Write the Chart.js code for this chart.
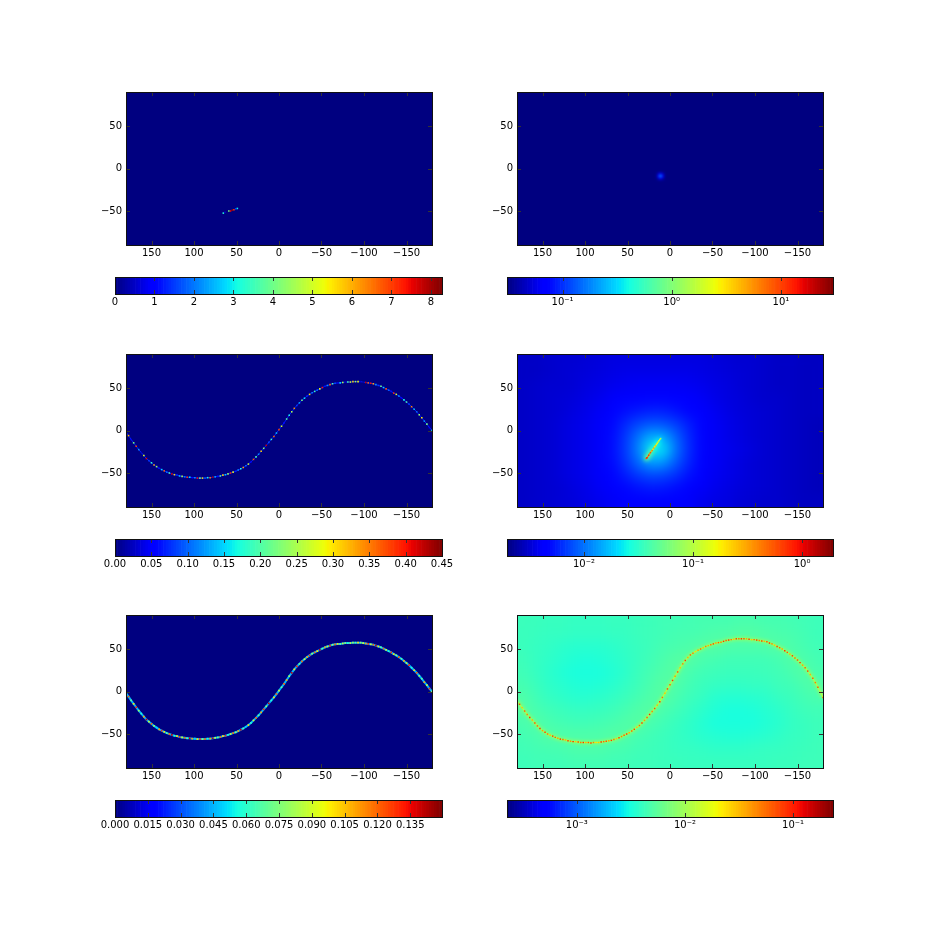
<!DOCTYPE html>
<html><head><meta charset="utf-8">
<script src="https://cdn.jsdelivr.net/npm/chart.js@4"></script>
<style>html,body{margin:0;padding:0;background:#fff;width:926px;height:926px;overflow:hidden}canvas{position:absolute;display:block}</style>
</head><body>
<script>
// ---------- data ----------
const LON_TICKS=[150,100,50,0,-50,-100,-150];
const LAT_TICKS=[50,0,-50];
const CB1_TICKS=[0,1,2,3,4,5,6,7,8];
const CB1_LABELS=["0","1","2","3","4","5","6","7","8"];
const CB2_TICKS=[0.1,1,10];
const CB2_LABELS=["10⁻¹","10⁰","10¹"];
const CB3_TICKS=[0,0.05,0.1,0.15,0.2,0.25,0.3,0.35,0.4,0.45];
const CB3_LABELS=["0.00","0.05","0.10","0.15","0.20","0.25","0.30","0.35","0.40","0.45"];
const CB4_TICKS=[0.01,0.1,1];
const CB4_LABELS=["10⁻²","10⁻¹","10⁰"];
const CB5_TICKS=[0,0.015,0.03,0.045,0.06,0.075,0.09,0.105,0.12,0.135];
const CB5_LABELS=["0.000","0.015","0.030","0.045","0.060","0.075","0.090","0.105","0.120","0.135"];
const CB6_TICKS=[0.001,0.01,0.1];
const CB6_LABELS=["10⁻³","10⁻²","10⁻¹"];

// panel 1: short streak
const P1_LON=[65.5,63.5,59,57,55,53,51,49];
const P1_LAT=[-52.5,-51.5,-50,-50,-49,-48.5,-47.5,-47];
const P1_VAL=[3.2,0.6,4,7.5,8,7,1.5,3];

// panel 2: isolated spot
const P2_LON=[15,13,11,9,7];
const P2_LAT=[-5,-7,-9,-11,-13];
const P2_VAL=[
 [.034,.04,.045,.04,.034],
 [.04,.07,.10,.07,.04],
 [.045,.10,.22,.10,.045],
 [.04,.07,.10,.07,.04],
 [.034,.04,.045,.04,.034]];

// band along the curve (panels 3, 5, 6)
const BAND_LON=[180,177,174,171,168,165,162,159,156,153,150,147,144,141,138,135,132,129,126,123,120,117,114,111,108,105,102,99,96,93,90,87,84,81,78,75,72,69,66,63,60,57,54,51,48,45,42,39,36,33,30,27,24,21,18,15,12,9,6,3,0,-3,-6,-9,-12,-15,-18,-21,-24,-27,-30,-33,-36,-39,-42,-45,-48,-51,-54,-57,-60,-63,-66,-69,-72,-75,-78,-81,-84,-87,-90,-93,-96,-99,-102,-105,-108,-111,-114,-117,-120,-123,-126,-129,-132,-135,-138,-141,-144,-147,-150,-153,-156,-159,-162,-165,-168,-171,-174,-177,-180];
const BAND_LAT=[-2,-6,-10.5,-14.5,-18.5,-22.5,-26,-29.5,-33,-35.5,-38,-40.5,-42.5,-44.5,-46,-47.5,-49,-50,-51,-52,-52.5,-53.5,-54,-54.5,-55,-55,-55.5,-55.5,-56,-56,-56,-56,-55.5,-55.5,-55,-54.5,-54,-53.5,-52.5,-52,-51,-50,-49,-48,-46.5,-45,-43.5,-41.5,-39.5,-37,-34,-31,-28,-24.5,-21,-17.5,-14,-10.5,-7,-3,1,5,9,13.5,18,22,26,29.5,32.5,35.5,38,40.5,42.5,44.5,46,47.5,49,50.5,52,53,54,55,55.5,56,56,56.5,57,57,57,57.5,57.5,57.5,57.5,57,56.5,56,55.5,55,54,53,52,50.5,49,47.5,46,44,42.5,40.5,38.5,36,33.5,31,28,25,22,18.5,15,11,7.5,3.5,0];
const BAND6_LAT=[-11,-15,-19,-23,-27,-30.5,-33.5,-37,-40.5,-43.5,-46,-48,-50,-51.5,-52.5,-54,-55,-56,-56.5,-57,-58,-58.5,-59,-59,-59.5,-60,-60,-60,-60,-60.5,-60,-60,-60,-59.5,-59,-58.5,-58,-57.5,-56.5,-55.5,-54.5,-53,-51.5,-50,-48.5,-46.5,-44.5,-42,-40,-37,-34,-30.5,-27,-23.5,-20,-16,-12,-7,-2,3,8,13,18,23,28,32.5,36.5,40,43,45,47,48.5,50,51.5,53,54,55,56,57,57.5,58,59,60,60.5,61,61.5,62,62,62,62,62,61.5,61,61,60.5,60,59.5,59,58.5,57,56,54.5,53,51.5,50,48,46,44,42,39.5,37,34,31,28,24,20,15.5,10.5,5,-1,-7];
const VAL3=[.10,.32,.05,.22,.38,.12,.03,.28,.41,.08,
 .18,.33,.24,.06,.15,.36,.10,.20,.42,.30,
 .07,.14,.25,.11,.38,.16,.05,.12,.40,.22,
 .30,.09,.17,.35,.43,.13,.06,.20,.31,.15,
 .24,.39,.28,.07,.12,.17,.33,.10,.27,.05,
 .37,.20,.12,.31,.23,.42,.09,.18,.36,.14,
 .38,.27,.06,.20,.17,.25,.34,.08,.13,.22,
 .16,.07,.30,.11,.19,.10,.28,.40,.06,.12,
 .36,.20,.09,.04,.15,.25,.02,.20,.27,.31,
 .24,.29,.03,.01,.42,.36,.40,.33,.12,.08,
 .22,.15,.37,.10,.06,.39,.28,.12,.05,.17,
 .20,.08,.35,.14,.10,.24,.30,.12,.22,.05,
 .16];
const VAL5=[.09,.12,.07,.10,.13,.08,.06,.11,.14,.09,
 .12,.08,.05,.11,.13,.10,.07,.12,.14,.06,
 .10,.13,.09,.12,.07,.14,.11,.05,.10,.13,
 .08,.12,.06,.11,.14,.09,.07,.12,.10,.13,
 .06,.09,.12,.08,.11,.14,.07,.05,.10,.06,
 .09,.12,.07,.11,.13,.08,.14,.06,.10,.12,
 .09,.07,.12,.11,.08,.14,.10,.13,.07,.12,
 .09,.11,.13,.08,.12,.10,.14,.07,.11,.09,
 .13,.08,.12,.10,.07,.09,.08,.06,.09,.08,
 .07,.10,.08,.09,.11,.13,.09,.12,.14,.10,
 .07,.12,.09,.06,.13,.10,.08,.12,.07,.11,
 .09,.13,.06,.10,.12,.08,.07,.11,.09,.13,
 .08];
const VAL6=[.055,.085,.03,.065,.05,.09,.035,.07,.06,.095,
 .04,.08,.055,.03,.085,.065,.04,.095,.06,.035,
 .08,.05,.10,.03,.07,.055,.09,.035,.065,.085,
 .05,.025,.03,.095,.06,.07,.04,.085,.055,.03,
 .08,.05,.065,.09,.035,.06,.08,.03,.055,.085,
 .04,.065,.095,.05,.07,.035,.085,.055,.03,.08,
 .06,.09,.04,.07,.03,.055,.085,.035,.065,.05,
 .025,.04,.06,.03,.05,.035,.055,.08,.04,.065,
 .05,.09,.07,.095,.055,.03,.085,.06,.095,.07,
 .04,.085,.03,.06,.09,.05,.08,.035,.07,.095,
 .055,.03,.08,.06,.04,.09,.065,.035,.085,.055,
 .07,.095,.04,.06,.08,.035,.065,.05,.07,.03,
 .06];

// coarse background fields (units of 1e-3), 15 degree cells
const FIELD_LON=[172.5,157.5,142.5,127.5,112.5,97.5,82.5,67.5,52.5,37.5,22.5,7.5,-7.5,-22.5,-37.5,-52.5,-67.5,-82.5,-97.5,-112.5,-127.5,-142.5,-157.5,-172.5];
const FIELD_LAT=[82.5,67.5,52.5,37.5,22.5,7.5,-7.5,-22.5,-37.5,-52.5,-67.5,-82.5];
const FIELD4=[
 [3.0,3.0,3.1,3.2,3.2,3.3,3.4,3.5,3.5,3.5,3.5,3.5,3.5,3.5,3.5,3.4,3.3,3.2,3.2,3.1,3.0,3.0,2.9,2.9],
 [3.0,3.0,3.1,3.2,3.3,3.4,3.5,3.6,3.7,3.7,3.7,3.7,3.7,3.7,3.6,3.5,3.4,3.3,3.2,3.1,3.0,3.0,2.9,2.9],
 [3.0,3.1,3.2,3.2,3.3,3.5,3.6,3.8,3.9,4.0,4.0,4.0,4.0,3.9,3.8,3.6,3.5,3.3,3.2,3.1,3.0,3.0,2.9,2.9],
 [3.0,3.1,3.2,3.3,3.4,3.6,3.8,4.1,4.4,4.6,4.7,4.7,4.6,4.3,4.0,3.7,3.5,3.4,3.2,3.1,3.1,3.0,2.9,2.9],
 [3.0,3.1,3.2,3.3,3.5,3.7,4.0,4.4,5.0,5.4,5.7,5.7,5.2,4.7,4.2,3.9,3.6,3.4,3.3,3.2,3.1,3.0,2.9,2.9],
 [3.0,3.1,3.2,3.4,3.6,3.8,4.1,4.8,6.0,7.4,8.2,8.0,7.0,5.6,4.5,4.0,3.7,3.5,3.3,3.2,3.1,3.0,2.9,2.8],
 [3.0,3.1,3.2,3.4,3.6,3.8,4.1,4.9,6.6,10,15,14.5,9,6.0,4.7,4.0,3.7,3.5,3.3,3.2,3.1,3.0,2.9,2.8],
 [3.0,3.1,3.2,3.4,3.6,3.8,4.1,5.0,6.8,11,24,22,10,6.2,4.7,4.0,3.8,3.6,3.4,3.2,3.1,3.0,2.9,2.8],
 [3.0,3.1,3.2,3.4,3.6,3.8,4.1,4.9,6.4,9.5,14,13,8.5,5.9,4.6,4.0,3.7,3.5,3.3,3.2,3.1,3.0,2.9,2.8],
 [3.0,3.1,3.2,3.4,3.6,3.8,4.1,4.7,5.6,6.8,7.6,7.4,6.4,5.2,4.3,3.9,3.7,3.5,3.3,3.2,3.1,3.0,2.9,2.8],
 [3.0,3.1,3.2,3.3,3.5,3.7,4.0,4.3,4.8,5.2,5.5,5.4,5.0,4.5,4.1,3.8,3.6,3.4,3.3,3.2,3.1,3.0,2.9,2.8],
 [3.0,3.1,3.2,3.3,3.4,3.6,3.8,4.0,4.2,4.4,4.5,4.5,4.3,4.1,3.8,3.6,3.5,3.3,3.2,3.1,3.1,3.0,2.9,2.9]];
const FIELD6=[
 [4.2,4.2,4.1,4.1,4.0,4.0,4.0,4.1,4.1,4.2,4.3,4.4,4.4,4.5,4.6,4.6,4.6,4.7,4.7,4.6,4.6,4.5,4.4,4.3],
 [4.2,4.1,4.0,4.0,3.9,3.9,3.9,4.0,4.0,4.2,4.3,4.4,4.6,4.6,4.7,4.9,5.0,5.2,5.2,5.0,4.8,4.7,4.5,4.3],
 [4.2,4.0,3.9,3.7,3.6,3.6,3.6,3.7,3.9,4.1,4.3,4.6,4.7,4.9,5.2,5.2,5.0,4.9,4.9,5.0,5.2,4.9,4.6,4.4],
 [4.3,4.0,3.8,3.6,3.4,3.3,3.4,3.6,3.8,4.1,4.4,4.8,5.2,5.3,4.8,4.6,4.4,4.4,4.4,4.4,4.6,5.1,4.9,4.5],
 [4.4,4.0,3.7,3.4,3.2,3.2,3.2,3.4,3.7,4.2,4.6,5.0,5.3,4.7,4.4,4.3,4.2,4.2,4.2,4.3,4.4,4.7,5.2,4.7],
 [4.6,4.2,3.8,3.6,3.4,3.3,3.4,3.6,3.9,4.3,4.8,5.3,5.0,4.5,4.2,4.0,3.9,3.9,4.0,4.0,4.3,4.4,4.8,5.2],
 [5.0,4.4,4.0,3.8,3.6,3.6,3.7,3.9,4.2,4.6,5.0,5.3,4.7,4.3,4.0,3.6,3.5,3.5,3.6,3.7,4.0,4.2,4.5,4.8],
 [5.2,4.7,4.4,4.2,4.0,4.0,4.1,4.3,4.6,5.0,5.3,4.8,4.4,4.0,3.7,3.4,3.2,3.2,3.3,3.5,3.7,4.0,4.3,4.4],
 [4.7,5.2,4.7,4.5,4.4,4.4,4.5,4.7,5.0,5.3,4.7,4.4,4.1,3.8,3.5,3.2,3.2,3.2,3.2,3.4,3.6,3.9,4.1,4.3],
 [4.5,4.7,5.2,5.0,5.0,5.0,5.0,5.2,5.1,4.6,4.4,4.2,4.0,3.8,3.6,3.5,3.4,3.4,3.5,3.6,3.8,4.0,4.1,4.3],
 [4.4,4.5,4.6,4.7,4.9,4.9,4.9,4.7,4.6,4.4,4.3,4.2,4.0,4.0,3.9,3.8,3.8,3.8,3.9,4.0,4.0,4.1,4.2,4.3],
 [4.3,4.4,4.4,4.4,4.5,4.5,4.5,4.4,4.4,4.3,4.3,4.2,4.2,4.1,4.1,4.1,4.1,4.1,4.1,4.1,4.2,4.2,4.3,4.3]];

// panel 4 streak
const P4_LON=[28,27,26,25,24,23,22,21,20,19,18,17,16,15,14,13,12,11];
const P4_LAT=[-33,-32,-30.5,-29,-27.5,-26,-24.5,-23.5,-22,-20.5,-19,-18,-16.5,-15,-13.5,-12,-10.5,-9.5];
const P4_VAL=[.5,.9,.4,.7,.35,.6,.25,.4,.2,.3,.18,.24,.15,.18,.13,.14,.1,.08];
const P4_HALO=[.04,.05,.05,.05,.045,.045,.04,.04,.035,.035,.03,.03,.028,.028,.025,.025,.02,.018];

// value ranges of the colour scales
const RANGES=[[0,8.28],[0.031,30],[0,0.45],[0.00197,1.92],[0,0.1495],[0.000226,0.234]];

// ---------- helpers ----------
function ramp(t,pts){for(let i=1;i<pts.length;i++){if(t<=pts[i][0]){const a=pts[i-1],b=pts[i];return a[1]+(b[1]-a[1])*(t-a[0])/(b[0]-a[0]);}}return pts[pts.length-1][1];}
function jet(t){t=Math.max(0,Math.min(1,t));
 const r=ramp(t,[[0,0],[.35,0],[.66,1],[.89,1],[1,.5]]);
 const g=ramp(t,[[0,0],[.125,0],[.375,1],[.64,1],[.91,0],[1,0]]);
 const b=ramp(t,[[0,.5],[.11,1],[.34,1],[.65,0],[1,0]]);
 return `rgb(${Math.round(r*255)},${Math.round(g*255)},${Math.round(b*255)})`;}
function normFor(k){const [a,b]=RANGES[k];return (k%2)?v=>Math.log(v/a)/Math.log(b/a):v=>(v-a)/(b-a);}
function colorFor(k){const n=normFor(k);return v=>jet(n(v));}
const minusFix=s=>String(s).replace('-','\u2212');

const framePlugin={id:'frame',
 beforeDatasetsDraw(chart,a,o){if(o.base==null)return;const c=chart.chartArea,ctx=chart.ctx;ctx.save();ctx.fillStyle=o.base;ctx.fillRect(c.left,c.top,c.right-c.left,c.bottom-c.top);ctx.restore();},
 afterDatasetDraw(chart,args){const b=chart.data.datasets[args.index].blurPx;if(!b)return;
  const c=chart.chartArea,ctx=chart.ctx,w=c.right-c.left,h=c.bottom-c.top;
  ctx.save();ctx.beginPath();ctx.rect(c.left,c.top,w,h);ctx.clip();ctx.filter=`blur(${b}px)`;
  ctx.drawImage(chart.canvas,c.left,c.top,w,h,c.left,c.top,w,h);ctx.restore();},
 afterDraw(chart,a,o){const c=chart.chartArea,ctx=chart.ctx,L=o.tick||4;ctx.save();ctx.strokeStyle='#333';ctx.lineWidth=1;
  ctx.beginPath();
  const x=chart.scales.x;
  for(const t of o.xt||[]){const p=Math.round(x.getPixelForValue(t))+.5;ctx.moveTo(p,c.top);ctx.lineTo(p,c.top+L);ctx.moveTo(p,c.bottom);ctx.lineTo(p,c.bottom-L);}
  const y=chart.scales.y;
  for(const t of o.yt||[]){const p=Math.round(y.getPixelForValue(t))+.5;ctx.moveTo(c.left,p);ctx.lineTo(c.left+L,p);ctx.moveTo(c.right,p);ctx.lineTo(c.right-L,p);}
  ctx.stroke();
  ctx.strokeStyle='#111';
  ctx.strokeRect(Math.round(c.left)+.5,Math.round(c.top)+.5,Math.round(c.right-c.left),Math.round(c.bottom-c.top));
  ctx.restore();}
};
Chart.defaults.font.family="'DejaVu Sans'";Chart.defaults.font.size=10;Chart.defaults.color='#000';
const AX={type:'linear',grid:{display:false,drawTicks:false},border:{display:false}};

function addCanvas(l,t,w,h){const c=document.createElement('canvas');c.width=w;c.height=h;c.style.left=l+'px';c.style.top=t+'px';c.style.width=w+'px';c.style.height=h+'px';document.body.appendChild(c);return c;}

function panel(L,T,base,sets){
 const n=sets.length;sets.forEach((s,i)=>{s.order=n-i;});
 new Chart(addCanvas(L-40,T-10,306+40+10,153+10+30),{type:'scatter',data:{datasets:sets},plugins:[framePlugin],options:{
  responsive:false,animation:false,events:[],layout:{padding:{top:10,right:10,left:0,bottom:0}},
  plugins:{legend:{display:false},tooltip:{enabled:false},frame:{base,xt:LON_TICKS,yt:LAT_TICKS}},
  scales:{
   x:{...AX,reverse:true,min:-180,max:180,afterFit:s=>{s.height=30;},afterBuildTicks:s=>{s.ticks=LON_TICKS.map(v=>({value:v}));},
      ticks:{padding:2,maxRotation:0,autoSkip:false,callback:v=>minusFix(v)}},
   y:{...AX,min:-90,max:90,afterFit:s=>{s.width=40;},afterBuildTicks:s=>{s.ticks=LAT_TICKS.map(v=>({value:v}));},
      ticks:{padding:4,autoSkip:false,callback:v=>minusFix(v)}}
  }}});
}
function cells(lons,lats,vals,col,r,extra){return Object.assign({data:lons.map((x,i)=>({x,y:lats[i]})),pointStyle:'rect',pointRadius:r,pointBorderWidth:0,pointBackgroundColor:vals.map(col),showLine:false},extra||{});}
function grid(lons,lats,rows,scale,col,r,extra){const X=[],Y=[],V=[];rows.forEach((row,j)=>row.forEach((v,i)=>{X.push(lons[i]);Y.push(lats[j]);V.push(v*scale);}));return cells(X,Y,V,col,r,extra);}
function line(lons,lats,color,w,extra){return Object.assign({data:lons.map((x,i)=>({x,y:lats[i]})),showLine:true,pointRadius:0,borderColor:color,borderWidth:w,tension:0,borderJoinStyle:'round'},extra||{});}

function colorbar(k,L,T,W,ticks,labels){
 const [a,b]=RANGES[k],log=k%2===1,N=128,col=colorFor(k),segs=[],cols=[];
 const at=f=>log?a*Math.pow(b/a,f):a+(b-a)*f;
 for(let i=0;i<N;i++){segs.push({x:[at(i/N),at((i+1)/N)],y:'cb'});cols.push(col(at((i+.5)/N)));}
 new Chart(addCanvas(L-30,T-2,W+60,2+17+25),{type:'bar',data:{labels:['cb'],datasets:[{data:segs,backgroundColor:cols,borderWidth:0,barThickness:40,grouped:false}]},plugins:[framePlugin],options:{
  indexAxis:'y',responsive:false,animation:false,events:[],layout:{padding:{top:2,left:30,right:30,bottom:0}},
  plugins:{legend:{display:false},tooltip:{enabled:false},frame:{xt:ticks}},
  scales:{
   x:{...AX,type:log?'logarithmic':'linear',min:a,max:b,afterFit:s=>{s.height=25;},afterBuildTicks:s=>{s.ticks=ticks.map(v=>({value:v}));},
      ticks:{padding:2,maxRotation:0,autoSkip:false,callback:(v,i)=>labels[i]}},
   y:{type:'category',labels:['cb'],display:false}
  }}});
}

// ---------- layout ----------
const XL=126,XR=517,Y1=92,Y2=354,Y3=615;
const c1=colorFor(0),c2=colorFor(1),c3=colorFor(2),c4=colorFor(3),c5=colorFor(4),c6=colorFor(5);

panel(XL,Y1,c1(0),[cells(P1_LON,P1_LAT,P1_VAL,c1,1.1,{blurPx:0.3})]);
{const X=[],Y=[],V=[];P2_VAL.forEach((r,j)=>r.forEach((v,i)=>{X.push(P2_LON[i]);Y.push(P2_LAT[j]);V.push(v);}));
 panel(XR,Y1,c2(0.031),[cells(X,Y,V,c2,1.3,{blurPx:0.8})]);}
panel(XL,Y2,c3(0),[line(BAND_LON,BAND_LAT,c3(0.07),1),cells(BAND_LON,BAND_LAT,VAL3,c3,1.1,{blurPx:0.35})]);
panel(XR,Y2,c4(0.0035),[
 grid(FIELD_LON,FIELD_LAT,FIELD4,1e-3,c4,9.6,{blurPx:6}),
 cells(P4_LON,P4_LAT,P4_HALO,c4,3.2,{blurPx:2}),
 cells(P4_LON,P4_LAT,P4_VAL,c4,1.1,{blurPx:0.3})]);
panel(XL,Y3,c5(0),[line(BAND_LON,BAND_LAT,c5(0.045),2),cells(BAND_LON,BAND_LAT,VAL5,c5,1.2,{blurPx:0.35})]);
panel(XR,Y3,c6(0.0042),[
 grid(FIELD_LON,FIELD_LAT,FIELD6,1e-3,c6,9.6,{blurPx:6}),
 line(BAND_LON,BAND6_LAT,c6(0.0075),4,{blurPx:1.5}),
 line(BAND_LON,BAND6_LAT,c6(0.013),1),
 cells(BAND_LON,BAND6_LAT,VAL6,c6,1.0,{blurPx:0.3})]);

colorbar(0,115,277,327,CB1_TICKS,CB1_LABELS);
colorbar(1,507,277,326,CB2_TICKS,CB2_LABELS);
colorbar(2,115,539,327,CB3_TICKS,CB3_LABELS);
colorbar(3,507,539,326,CB4_TICKS,CB4_LABELS);
colorbar(4,115,800,327,CB5_TICKS,CB5_LABELS);
colorbar(5,507,800,326,CB6_TICKS,CB6_LABELS);
</script>
</body></html>
